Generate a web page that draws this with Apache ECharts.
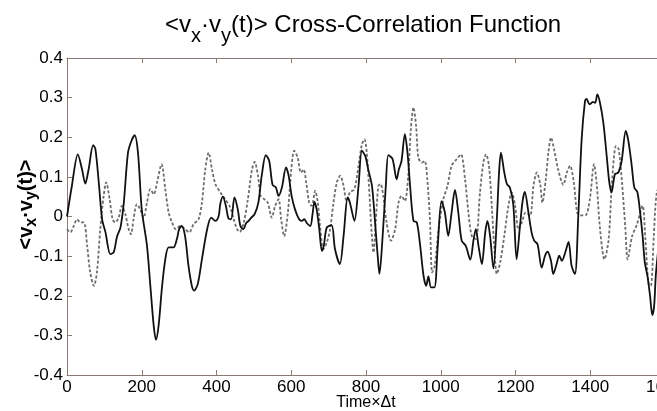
<!DOCTYPE html>
<html>
<head>
<meta charset="utf-8">
<script src="https://cdn.jsdelivr.net/npm/echarts@6/dist/echarts.min.js"></script>
<style>
html,body{margin:0;padding:0;background:#fff;}
#chart{width:657px;height:411px;}
</style>
</head>
<body>
<div id="chart"></div>
<script>
// Solid black curve
const solidT = [0,13,29,40,49,58,70,76,85,94,103,116,125,134,143,152,163,172,181,190,200,214,223,232,238,245,254,263,272,285,294,300,307,316,325,334,340,350,361,375,386,397,406,410,417,425,432,439,448,457,464,472,479,486,493,502,512,521,532,541,550,559,566,575,586,593,601,610,621,628,635,642,651,657,662,668,675,682,687,695,708,717,730,740,751,757,769,780,789,798,806,816,825,832,836,844,853,860,871,882,888,895,904,911,918,927,936,945,954,961,967,974,983,992,1002,1011,1020,1029,1038,1047,1056,1067,1079,1088,1094,1101,1110,1119,1125,1132,1141,1150,1156,1161,1170,1177,1185,1194,1203,1212,1219,1225,1234,1243,1250,1259,1270,1279,1286,1295,1301,1310,1317,1324,1333,1342,1350,1359,1368,1377,1386,1390,1398,1407,1413,1419,1426,1435,1444,1451,1457,1466,1475,1484,1495,1502,1511,1518,1526,1533,1540,1546,1553,1560,1566,1571,1576,1590,1600];
const solidV = [0.000,0.077,0.157,0.120,0.083,0.120,0.180,0.170,0.086,-0.007,-0.040,-0.095,-0.090,-0.050,-0.028,0.035,0.160,0.190,0.205,0.160,0.018,-0.074,-0.175,-0.276,-0.311,-0.276,-0.180,-0.108,-0.078,-0.078,-0.057,-0.032,-0.024,-0.050,-0.124,-0.175,-0.187,-0.170,-0.108,-0.032,-0.003,-0.011,0.002,0.031,0.050,0.027,-0.005,-0.007,0.048,0.018,-0.024,-0.032,-0.017,-0.011,-0.003,0.006,0.035,0.103,0.155,0.140,0.080,0.073,0.052,0.073,0.124,0.103,0.052,0.018,-0.007,-0.011,-0.007,-0.017,-0.024,0.006,0.037,0.018,-0.032,-0.087,-0.074,-0.028,-0.022,-0.082,-0.120,-0.049,0.048,0.035,-0.011,0.077,0.166,0.153,0.119,0.077,-0.024,-0.108,-0.145,-0.057,0.077,0.155,0.145,0.094,0.119,0.140,0.208,0.161,0.077,-0.011,-0.015,-0.074,-0.150,-0.175,-0.151,-0.179,-0.179,-0.074,0.039,0.010,-0.049,0.010,0.067,0.010,-0.061,-0.074,-0.109,-0.057,-0.032,-0.074,-0.120,-0.040,-0.011,-0.049,-0.131,-0.007,0.111,0.161,0.111,0.082,0.073,0.031,-0.108,-0.024,0.039,0.062,0.014,-0.040,-0.061,-0.070,-0.129,-0.099,-0.089,-0.112,-0.145,-0.120,-0.099,-0.112,-0.091,-0.064,-0.124,-0.145,0.002,0.195,0.292,0.297,0.283,0.289,0.287,0.308,0.287,0.237,0.153,0.086,0.061,0.107,0.111,0.140,0.216,0.191,0.128,0.073,0.062,0.014,-0.049,-0.116,-0.150,-0.200,-0.249,-0.225,-0.141,-0.020,0.030];

// Dashed gray curve
const dashT = [0,9,18,27,36,45,54,62,72,80,89,98,105,114,122,129,138,147,156,165,171,178,187,196,205,214,223,232,241,253,263,272,281,291,303,316,327,339,352,361,370,379,388,397,410,423,437,446,455,462,473,484,495,502,511,518,526,537,548,557,566,573,581,591,600,608,617,626,633,640,648,655,664,671,677,686,695,704,713,722,731,740,748,757,769,780,789,796,802,808,814,820,826,833,839,846,855,867,878,887,895,904,913,920,927,934,940,949,957,964,971,977,984,995,1007,1018,1029,1043,1054,1065,1074,1083,1094,1105,1114,1121,1129,1136,1143,1150,1159,1170,1181,1190,1199,1208,1217,1227,1239,1248,1257,1266,1272,1281,1288,1295,1304,1314,1328,1337,1346,1356,1365,1374,1387,1399,1410,1417,1426,1438,1449,1458,1469,1476,1485,1494,1500,1512,1525,1540,1547,1556,1562,1570,1578,1590,1600];
const dashV = [-0.032,-0.040,-0.024,-0.007,-0.015,-0.015,-0.074,-0.141,-0.175,-0.141,-0.032,0.052,0.086,0.044,-0.007,-0.015,-0.003,0.027,0.006,-0.032,-0.045,-0.007,0.031,0.018,-0.003,0.035,0.069,0.056,0.086,0.132,0.069,0.010,-0.015,-0.032,-0.024,-0.032,-0.040,-0.019,-0.007,0.035,0.119,0.161,0.119,0.082,0.061,0.044,0.023,-0.007,-0.032,-0.039,-0.015,0.044,0.119,0.138,0.103,0.052,0.045,0.035,-0.003,0.027,0.044,-0.007,-0.050,0.010,0.119,0.166,0.149,0.111,0.119,0.086,0.035,0.027,0.065,0.035,-0.024,-0.082,-0.066,-0.032,0.035,0.086,0.103,0.077,0.039,0.061,0.069,0.128,0.182,0.195,0.161,0.077,-0.024,-0.091,-0.015,0.077,0.082,0.052,-0.015,-0.061,-0.032,0.035,0.052,0.039,0.103,0.220,0.275,0.229,0.149,0.136,0.140,0.094,-0.007,-0.141,-0.124,-0.024,0.044,0.077,0.128,0.145,0.157,0.094,0.010,-0.049,-0.057,0.061,0.136,0.157,0.128,0.035,-0.074,-0.145,-0.116,-0.049,0.027,0.061,0.027,-0.032,-0.015,0.010,0.002,0.077,0.111,0.082,0.035,0.094,0.161,0.199,0.166,0.119,0.080,0.110,0.128,0.086,0.010,0.003,0.003,0.044,0.132,0.085,-0.030,-0.108,-0.060,0.085,0.178,0.170,0.085,-0.030,-0.108,-0.050,-0.020,0.027,-0.050,-0.170,-0.175,-0.050,0.060,0.080,0.060];

const xTicks = [0,1600,200];   // min, max, interval
const yTicks = [-0.4,0.4,0.1];

const pair = (t, v) => t.map((x, i) => [x, v[i]]);

const frame = '#8c7b75';
const font = 'Liberation Sans, Arial, sans-serif';

const chart = echarts.init(document.getElementById('chart'), null, {renderer:'canvas'});
const axisCommon = {
  type: 'value',
  nameMoveOverlap: false,
  axisLine: {show: true, onZero: false, lineStyle: {color: frame, width: 1}},
  axisTick: {show: true, inside: true, length: 5, lineStyle: {color: frame}},
  splitLine: {show: false}
};
chart.setOption({
  animation: false,
  backgroundColor: '#fff',
  title: {
    text: '{m|<v}{s|x}{m|·v}{s|y}{m|(t)> Cross-Correlation Function}',
    left: 160, top: 8,
    textStyle: {
      fontWeight: 'normal',
      rich: {
        m: {fontFamily: font, fontSize: 24, fontWeight: 'normal', color: '#000', verticalAlign: 'top', lineHeight: 28},
        s: {fontFamily: font, fontSize: 20, fontWeight: 'normal', color: '#000', verticalAlign: 'top', lineHeight: 24, padding: [13, 0, 0, 0]}
      }
    }
  },
  grid: {left: 67, top: 58, width: 598, height: 317, outerBoundsMode: 'none', containLabel: false},
  xAxis: [
    Object.assign({}, axisCommon, {
      position: 'bottom', min: xTicks[0], max: xTicks[1], interval: xTicks[2],
      axisLabel: {color: '#000', fontFamily: font, fontSize: 17, margin: 4, formatter: v => String(v)},
      name: 'Time×Δt', nameLocation: 'middle', nameGap: 20,
      nameTextStyle: {color: '#000', fontFamily: font, fontSize: 16, lineHeight: 16}
    }),
    Object.assign({}, axisCommon, {
      position: 'top', min: xTicks[0], max: xTicks[1], interval: xTicks[2],
      axisLabel: {show: false}
    })
  ],
  yAxis: [
    Object.assign({}, axisCommon, {
      position: 'left', min: yTicks[0], max: yTicks[1], interval: yTicks[2],
      axisLabel: {color: '#000', fontFamily: font, fontSize: 17, margin: 4,
        formatter: v => String(+v.toFixed(1))},
      name: '{m|<v}{s|x}{m|·v}{s|y}{m|(t)>}',
      nameLocation: 'middle', nameRotate: 90, nameGap: 30,
      nameTextStyle: {
        padding: [0, 0, 0, 24],
        rich: {
          m: {fontFamily: font, fontSize: 20, fontWeight: 'bold', color: '#000', verticalAlign: 'top', lineHeight: 21},
          s: {fontFamily: font, fontSize: 16, fontWeight: 'bold', color: '#000', verticalAlign: 'top', lineHeight: 17, padding: [8, 0, 0, 0]}
        }
      }
    }),
    Object.assign({}, axisCommon, {
      position: 'right', min: yTicks[0], max: yTicks[1], interval: yTicks[2],
      axisLabel: {show: false}
    })
  ],
  series: [
    {
      type: 'line', data: pair(dashT, dashV), showSymbol: false, smooth: 0.3,
      lineStyle: {color: '#6e6e6e', width: 1.8, type: [3, 2]}
    },
    {
      type: 'line', data: pair(solidT, solidV), showSymbol: false, smooth: 0.3,
      lineStyle: {color: '#111', width: 1.8}
    }
  ]
});
</script>
</body>
</html>
